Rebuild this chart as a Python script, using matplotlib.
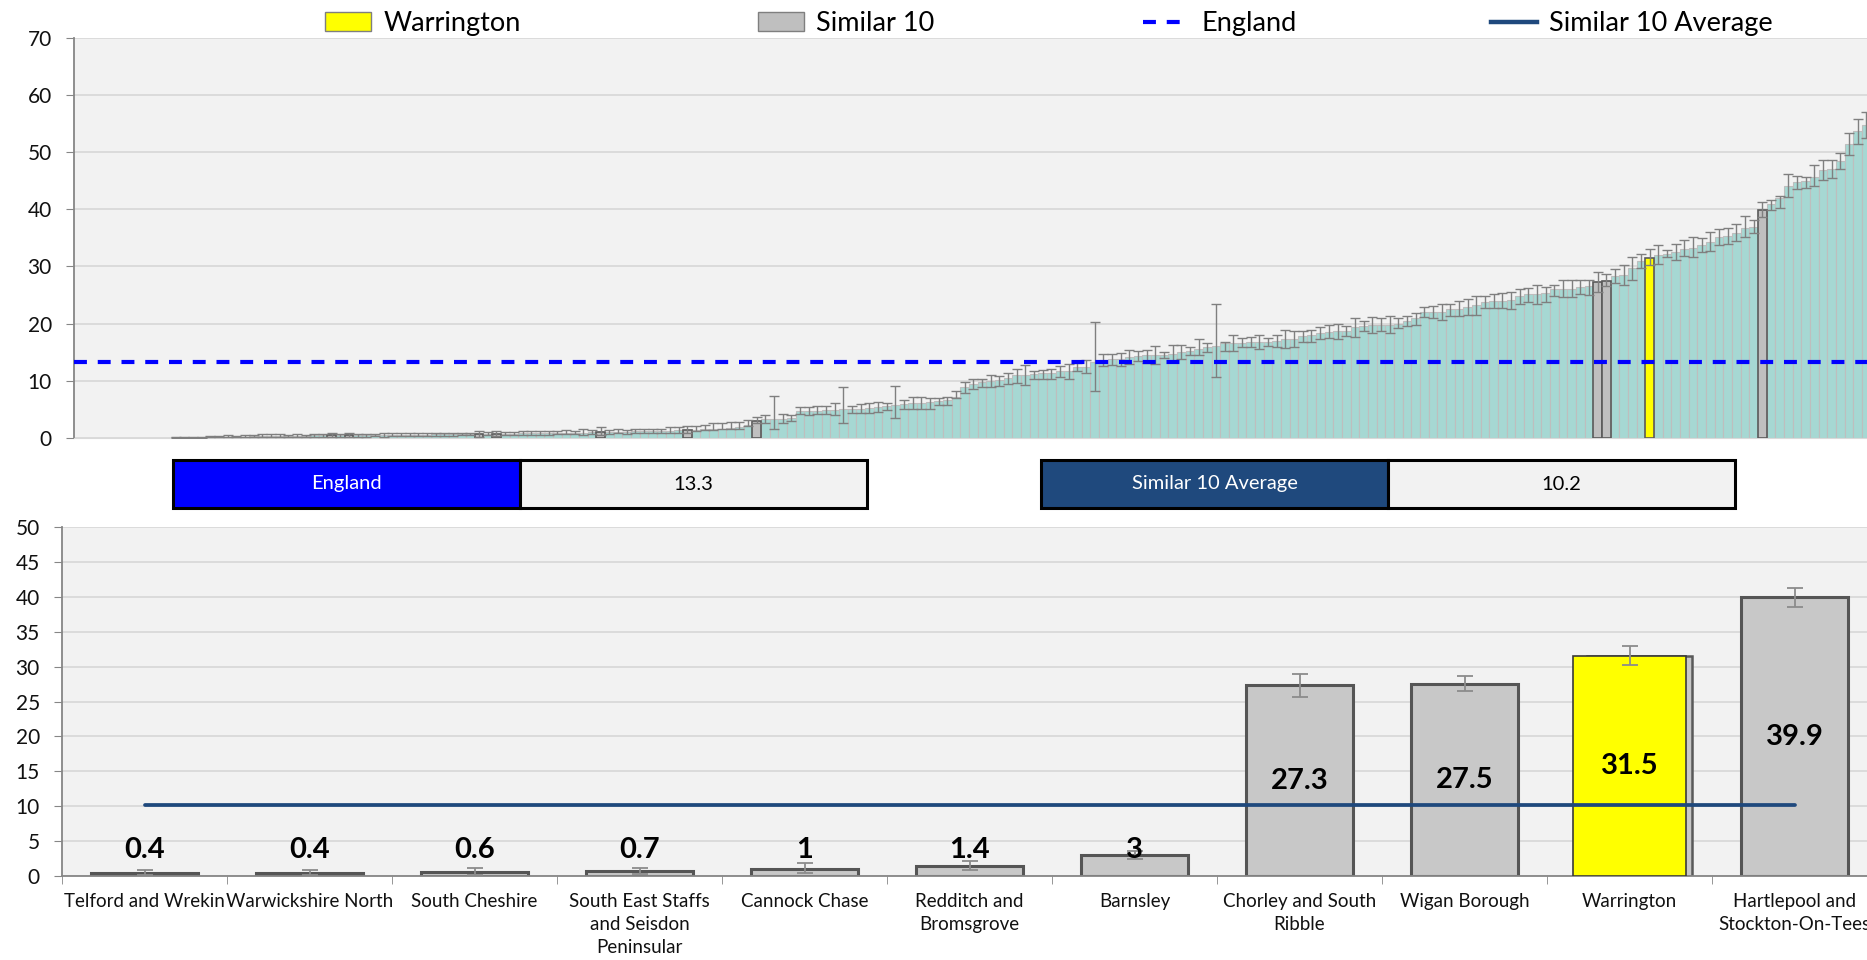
import numpy as np
import matplotlib
matplotlib.use("Agg")
import matplotlib.pyplot as plt
from matplotlib.patches import Patch, Rectangle
from matplotlib.lines import Line2D

# all areas, sorted ascending, with CI bounds
area_values = [
    0.1, 0.1, 0.1, 0.1, 0.2, 0.2, 0.2, 0.2, 0.2, 0.3,
    0.3, 0.3, 0.3, 0.3, 0.3, 0.3, 0.4, 0.4, 0.4, 0.4,
    0.4, 0.4, 0.4, 0.5, 0.5, 0.5, 0.5, 0.5, 0.5, 0.5,
    0.6, 0.6, 0.6, 0.6, 0.6, 0.6, 0.7, 0.7, 0.7, 0.7,
    0.8, 0.8, 0.8, 0.8, 0.9, 0.9, 0.9, 0.9, 1.0, 1.0,
    1.0, 1.0, 1.0, 1.1, 1.1, 1.1, 1.1, 1.2, 1.3, 1.4,
    1.4, 1.5, 1.6, 1.6, 1.7, 1.9, 2.2, 3.0, 3.3, 3.3,
    3.3, 3.5, 4.6, 4.6, 4.7, 4.8, 4.9, 5.0, 5.0, 5.1,
    5.2, 5.3, 5.5, 5.7, 5.9, 6.0, 6.0, 6.2, 6.4, 6.6,
    7.2, 8.8, 9.4, 9.7, 10.0, 10.1, 10.4, 10.9, 10.9, 11.1,
    11.3, 11.4, 11.6, 11.6, 12.4, 12.4, 13.3, 13.6, 13.7, 13.7,
    14.2, 14.3, 14.4, 14.4, 14.5, 14.7, 15.0, 15.1, 15.6, 15.9,
    16.1, 16.5, 16.5, 16.6, 16.7, 16.8, 16.8, 17.0, 17.2, 17.2,
    17.8, 17.9, 18.4, 18.5, 18.6, 18.7, 19.3, 19.6, 19.7, 19.7,
    19.8, 20.0, 20.5, 20.9, 22.0, 22.0, 22.1, 22.5, 22.6, 22.9,
    23.2, 23.8, 24.0, 24.0, 24.1, 24.8, 25.2, 25.2, 25.3, 26.0,
    26.1, 26.1, 26.4, 26.6, 27.3, 27.5, 28.4, 28.5, 29.7, 30.9,
    31.5, 32.0, 32.2, 32.5, 33.1, 33.3, 33.7, 34.3, 35.1, 35.4,
    35.8, 36.8, 36.9, 39.9, 40.9, 41.9, 44.1, 44.7, 45.0, 45.7,
    46.9, 47.1, 48.5, 51.4, 53.7, 54.7,
]
ci_lower = [
    0.0, 0.0, 0.0, 0.0, 0.1, 0.1, 0.1, 0.1, 0.1, 0.1,
    0.1, 0.1, 0.1, 0.1, 0.2, 0.2, 0.2, 0.2, 0.1, 0.2,
    0.1, 0.2, 0.2, 0.3, 0.2, 0.3, 0.3, 0.3, 0.3, 0.3,
    0.3, 0.3, 0.3, 0.4, 0.4, 0.2, 0.4, 0.3, 0.4, 0.5,
    0.5, 0.5, 0.5, 0.5, 0.6, 0.6, 0.6, 0.5, 0.6, 0.5,
    0.7, 0.8, 0.7, 0.8, 0.9, 0.8, 0.9, 0.8, 0.9, 0.8,
    1.2, 1.3, 1.3, 1.5, 1.6, 1.6, 2.0, 2.5, 2.5, 1.5,
    2.5, 2.9, 4.2, 4.0, 4.1, 4.2, 4.0, 2.6, 4.3, 4.4,
    4.4, 4.5, 4.9, 3.4, 5.1, 5.0, 5.0, 5.1, 5.8, 5.8,
    6.9, 7.8, 8.5, 8.8, 8.8, 9.0, 9.4, 9.6, 9.2, 10.3,
    10.2, 10.2, 10.6, 10.2, 11.7, 11.4, 8.1, 12.6, 12.8, 12.6,
    12.9, 13.4, 13.0, 12.9, 13.9, 13.5, 13.8, 14.4, 14.4, 15.0,
    10.6, 15.2, 15.2, 15.8, 15.8, 15.6, 16.1, 15.9, 15.7, 15.9,
    16.7, 16.7, 17.2, 17.5, 17.2, 17.8, 17.7, 18.7, 18.3, 18.6,
    18.4, 19.2, 19.6, 19.8, 21.1, 20.9, 20.7, 21.3, 21.3, 21.5,
    21.5, 22.8, 22.8, 22.7, 22.6, 23.5, 23.8, 23.5, 23.7, 24.8,
    24.6, 24.7, 25.1, 25.0, 25.6, 26.5, 27.1, 26.7, 27.7, 29.8,
    30.2, 30.4, 31.6, 31.2, 31.8, 31.6, 32.6, 32.7, 33.7, 34.0,
    34.5, 35.2, 35.8, 38.6, 39.9, 40.2, 42.2, 43.5, 43.7, 44.0,
    45.2, 45.5, 47.0, 49.5, 51.5, 52.4,
]
ci_upper = [
    0.2, 0.2, 0.2, 0.2, 0.3, 0.3, 0.4, 0.3, 0.4, 0.5,
    0.6, 0.6, 0.6, 0.5, 0.6, 0.5, 0.6, 0.6, 0.8, 0.7,
    0.8, 0.6, 0.6, 0.7, 0.9, 0.8, 0.8, 0.8, 0.8, 0.8,
    0.9, 0.9, 0.9, 0.9, 0.8, 1.1, 1.0, 1.2, 1.0, 1.0,
    1.2, 1.2, 1.1, 1.2, 1.2, 1.3, 1.2, 1.5, 1.4, 1.9,
    1.4, 1.5, 1.4, 1.6, 1.5, 1.6, 1.5, 1.9, 1.9, 2.1,
    2.1, 2.2, 2.5, 2.6, 2.7, 2.8, 3.1, 3.6, 3.9, 7.3,
    4.1, 4.0, 5.3, 5.4, 5.5, 5.5, 6.0, 8.8, 5.5, 5.9,
    6.1, 6.3, 6.0, 9.1, 6.6, 7.2, 7.1, 6.9, 6.9, 7.2,
    8.2, 9.8, 10.2, 10.2, 11.0, 10.8, 11.3, 12.1, 12.7, 11.6,
    11.8, 12.0, 12.6, 12.9, 13.1, 13.6, 20.3, 14.6, 14.7, 14.9,
    15.4, 15.1, 15.3, 16.0, 15.0, 16.2, 16.3, 15.8, 17.2, 16.6,
    23.4, 16.8, 18.0, 17.4, 17.7, 17.9, 17.5, 18.0, 18.9, 18.7,
    18.6, 18.9, 19.3, 19.7, 20.0, 19.6, 20.9, 20.5, 21.1, 20.9,
    21.4, 21.0, 21.4, 21.9, 22.9, 23.0, 23.4, 23.5, 23.9, 24.3,
    24.8, 24.9, 25.1, 25.3, 25.6, 26.0, 26.3, 26.7, 26.4, 26.7,
    27.6, 27.6, 27.6, 27.6, 29.0, 28.7, 29.6, 30.3, 31.7, 32.1,
    33.0, 33.7, 32.9, 34.0, 34.6, 35.1, 34.9, 36.0, 36.5, 36.8,
    37.4, 38.8, 38.2, 41.3, 41.7, 42.4, 46.2, 45.9, 45.7, 47.8,
    48.7, 48.6, 49.9, 53.3, 55.8, 57.0,
]

similar_names = [
    "Telford and Wrekin", "Warwickshire North", "South Cheshire",
    "South East Staffs\nand Seisdon\nPeninsular", "Cannock Chase",
    "Redditch and\nBromsgrove", "Barnsley", "Chorley and South\nRibble",
    "Wigan Borough", "Warrington", "Hartlepool and\nStockton-On-Tees",
]
similar_values = [0.4, 0.4, 0.6, 0.7, 1.0, 1.4, 3.0, 27.3, 27.5, 31.5, 39.9]
similar_lower = [0.1, 0.1, 0.2, 0.3, 0.5, 0.8, 2.5, 25.6, 26.5, 30.2, 38.6]
similar_upper = [0.8, 0.8, 1.1, 1.2, 1.9, 2.1, 3.6, 29.0, 28.7, 33.0, 41.3]
# rank of each similar area among all areas (top chart)
similar_rank = [18, 20, 35, 37, 49, 59, 67, 164, 165, 170, 183]
home_area = "Warrington"

england_value = 13.3
similar_avg = 10.2

top_yticks = list(range(0, 71, 10))
bottom_yticks = list(range(0, 51, 5))

W, H = 1867, 960
plt.rcParams['font.family'] = ['Lato', 'DejaVu Sans']
fig = plt.figure(figsize=(W / 100, H / 100), dpi=100)


def fx(px):
    return px / W


def fy(py):
    return 1 - py / H


grid_kw = dict(color='#D9D9D9', linewidth=1.3)
tick_kw = dict(labelsize=15, labelcolor='#111111', color='#868686', length=6, pad=10)

# ---- top: all areas ----
ax1 = fig.add_axes([fx(74), fy(437.7), (W - 74) / W, (437.7 - 38) / H])
x = np.arange(len(area_values))
vals = np.array(area_values)
err = [vals - np.array(ci_lower), np.array(ci_upper) - vals]
ax1.bar(x, vals, width=1.0, color='#A6D8D3', edgecolor='#BEBEBE', linewidth=0.8, zorder=2)
for name, r in zip(similar_names, similar_rank):
    fc = '#FFFF00' if name == home_area else '#BFBFBF'
    ax1.bar(r, area_values[r], width=1.0, color=fc, edgecolor='#5A5A5A', linewidth=1.2, zorder=3)
ax1.errorbar(x, vals, yerr=err, fmt='none', ecolor='#7F7F7F', elinewidth=1.0,
             capsize=3.5, capthick=1.0, zorder=4)
ax1.axhline(england_value, color='#0000FF', lw=3, ls=(0, (3.1, 2.6)), zorder=5)

ax1.set_xlim(-11.73, 195.07)
ax1.set_ylim(0, 70)
ax1.set_yticks(top_yticks)
ax1.set_xticks([])
ax1.set_facecolor('#F2F2F2')
ax1.yaxis.grid(True, **grid_kw)
ax1.set_axisbelow(True)
for s in ['top', 'right']:
    ax1.spines[s].set_visible(False)
ax1.spines['left'].set_color('#868686')
ax1.spines['left'].set_linewidth(1.3)
ax1.spines['bottom'].set_color('#D9D9D9')
ax1.tick_params(axis='y', **tick_kw)

# legend entries, placed one by one like the original
legend_items = [
    (325, Patch(facecolor='#FFFF00', edgecolor='#7F7F7F'), "Warrington"),
    (758, Patch(facecolor='#BFBFBF', edgecolor='#7F7F7F'), "Similar 10"),
    (1143, Line2D([], [], color='#0000FF', lw=3, ls=(0, (3.1, 2.6))), "England"),
    (1491, Line2D([], [], color='#1F497D', lw=3.2), "Similar 10 Average"),
]
for xpos, h, lab in legend_items:
    fig.legend(handles=[h], labels=[lab], loc='center left',
               bbox_to_anchor=(fx(xpos), fy(23.5)), frameon=False, borderpad=0,
               borderaxespad=0, handlelength=1.7, handletextpad=0.45, fontsize=19.5)

# summary boxes
def stat_box(x0, label, value, color):
    w, y0, h = 347, 460, 48
    fig.add_artist(Rectangle((fx(x0), fy(y0 + h)), w / W, h / H, transform=fig.transFigure,
                             facecolor=color, edgecolor='black', lw=2.2))
    fig.add_artist(Rectangle((fx(x0 + w), fy(y0 + h)), w / W, h / H, transform=fig.transFigure,
                             facecolor='#F2F2F2', edgecolor='black', lw=2.2))
    fig.text(fx(x0 + w / 2), fy(y0 + h / 2), label, color='white', fontsize=14.5,
             ha='center', va='center')
    fig.text(fx(x0 + 1.5 * w), fy(y0 + h / 2), f"{value}", color='black', fontsize=14.5,
             ha='center', va='center')


stat_box(173, "England", england_value, '#0000FF')
stat_box(1041, "Similar 10 Average", similar_avg, '#1F497D')

# ---- bottom: similar 10 ----
ax2 = fig.add_axes([fx(62), fy(876), 1815 / W, 349 / H])
xb = np.arange(len(similar_names))
sv = np.array(similar_values)
for i, (name, v) in enumerate(zip(similar_names, similar_values)):
    if name == home_area:
        ax2.bar(i + 0.06, v, width=0.64, color='#C8C8C8', edgecolor='#5A5A5A', linewidth=1.8, zorder=2)
        ax2.bar(i, v, width=0.68, color='#FFFF00', edgecolor='#3A3A3A', linewidth=1.2, zorder=3)
    else:
        ax2.bar(i, v, width=0.65, color='#C8C8C8', edgecolor='#555555', linewidth=2.2, zorder=2)
ax2.errorbar(xb, sv, yerr=[sv - np.array(similar_lower), np.array(similar_upper) - sv],
             fmt='none', ecolor='#8C8C8C', elinewidth=1.3, capsize=6, capthick=1.3, zorder=5)
ax2.plot([xb[0], xb[-1]], [similar_avg, similar_avg], color='#1F497D', lw=2.7, zorder=6,
         solid_capstyle='round')
for i, v in enumerate(similar_values):
    ax2.text(i, max(v / 2, 3.7), f"{v:g}", ha='center', va='center', fontsize=21,
             fontweight='bold', color='black', zorder=7)

ax2.set_xlim(-0.5, 10.5)
ax2.set_ylim(0, 50)
ax2.set_yticks(bottom_yticks)
ax2.set_xticks(xb)
ax2.set_xticklabels(similar_names, fontsize=13.5, color='#111111', linespacing=1.45, va='top')
ax2.set_xticks(np.arange(-0.5, 11, 1), minor=True)
ax2.tick_params(axis='x', which='major', length=0, pad=12)
ax2.tick_params(axis='x', which='minor', length=6, color='#868686')
ax2.tick_params(axis='y', **tick_kw)
ax2.set_facecolor('#F2F2F2')
ax2.yaxis.grid(True, **grid_kw)
ax2.set_axisbelow(True)
for s in ['top', 'right']:
    ax2.spines[s].set_visible(False)
for s in ['left', 'bottom']:
    ax2.spines[s].set_color('#868686')
    ax2.spines[s].set_linewidth(1.3)

fig.savefig("out.png", dpi=100)
